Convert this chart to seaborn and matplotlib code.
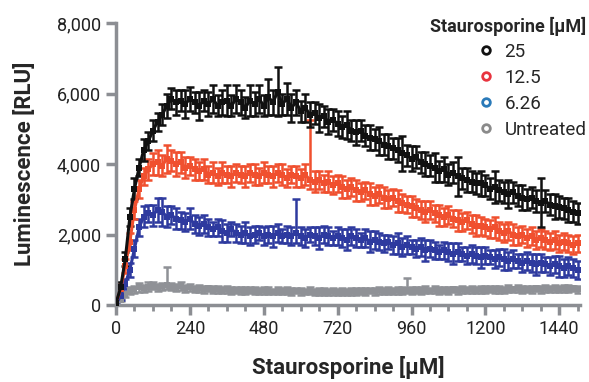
import numpy as np
import pandas as pd
import matplotlib
matplotlib.use("Agg")
import matplotlib.pyplot as plt
import seaborn as sns
from matplotlib.lines import Line2D
from matplotlib.ticker import MultipleLocator, FuncFormatter

# ===== Data =====
time_min = list(range(0, 1501, 15))

lum_25 = [
    50, 500, 1300, 2500, 3300, 3900, 4400, 4650, 4950, 5200,
    5400, 5650, 5850, 5750, 5800, 5700, 5850, 5750, 5650, 5800,
    5700, 5850, 5650, 5750, 5800, 5650, 5850, 5750, 5600, 5800,
    5700, 5850, 5650, 5900, 5750, 6050, 5700, 5850, 5600, 5750,
    5500, 5600, 5400, 5450, 5300, 5350, 5200, 5250, 5150, 5050,
    5100, 4950, 4900, 4950, 4800, 4750, 4700, 4650, 4550, 4500,
    4450, 4400, 4300, 4250, 4150, 4200, 4050, 4000, 3950, 3900,
    3800, 3850, 3700, 3750, 3650, 3600, 3550, 3500, 3450, 3450,
    3400, 3300, 3350, 3250, 3200, 3150, 3200, 3100, 3050, 3000,
    3050, 2950, 2900, 2950, 2850, 2800, 2780, 2750, 2700, 2650,
    2600,
]
err_25 = [
    50, 150, 200, 250, 300, 250, 300, 250, 300, 250,
    300, 350, 300, 350, 300, 400, 350, 300, 400, 300,
    350, 400, 300, 350, 450, 300, 400, 350, 300, 450,
    350, 400, 300, 500, 350, 700, 300, 450, 400, 350,
    300, 400, 350, 300, 400, 300, 350, 300, 350, 300,
    400, 300, 350, 300, 300, 350, 300, 400, 300, 350,
    300, 350, 500, 300, 350, 300, 300, 350, 300, 400,
    300, 350, 300, 300, 550, 300, 350, 300, 300, 350,
    300, 300, 450, 300, 300, 400, 300, 300, 350, 300,
    300, 300, 700, 300, 300, 350, 300, 300, 350, 300,
    300,
]

lum_12_5 = [
    50, 450, 1100, 1800, 2700, 3300, 3650, 3850, 4000, 4050,
    3950, 4150, 4100, 4000, 4050, 3900, 3950, 3850, 3800, 3850,
    3700, 3750, 3650, 3750, 3700, 3650, 3750, 3700, 3650, 3750,
    3700, 3650, 3750, 3700, 3650, 3750, 3700, 3600, 3700, 3650,
    3600, 3700, 3550, 3500, 3550, 3450, 3500, 3400, 3450, 3350,
    3300, 3350, 3250, 3200, 3250, 3150, 3100, 3150, 3050, 3000,
    3050, 2950, 2900, 2850, 2800, 2750, 2700, 2650, 2700, 2600,
    2550, 2500, 2550, 2450, 2400, 2350, 2400, 2300, 2250, 2250,
    2200, 2150, 2200, 2100, 2050, 2100, 2000, 1950, 2000, 1900,
    1950, 1850, 1900, 1850, 1800, 1850, 1750, 1800, 1750, 1700,
    1750,
]
err_12_5 = [
    50, 150, 200, 250, 250, 250, 250, 300, 300, 350,
    300, 400, 300, 350, 300, 300, 250, 300, 250, 300,
    250, 300, 250, 300, 250, 300, 250, 250, 300, 250,
    300, 250, 300, 250, 300, 250, 300, 250, 250, 300,
    250, 300, 250, 300, 250, 250, 300, 250, 250, 300,
    250, 250, 300, 250, 250, 300, 250, 250, 300, 250,
    250, 300, 250, 250, 300, 250, 250, 300, 250, 250,
    300, 250, 250, 250, 300, 250, 250, 250, 300, 250,
    250, 250, 300, 250, 250, 250, 300, 250, 250, 250,
    250, 250, 250, 250, 250, 250, 250, 250, 250, 250,
    250,
]

lum_6_26 = [
    40, 250, 600, 1000, 1600, 2200, 2500, 2600, 2550, 2700,
    2650, 2500, 2550, 2450, 2400, 2350, 2450, 2300, 2250, 2300,
    2200, 2150, 2200, 2100, 2050, 2150, 2050, 2000, 2050, 1950,
    2000, 2050, 1950, 2000, 1950, 2050, 1950, 2000, 1950, 2050,
    1950, 1900, 2000, 1950, 1900, 2000, 1950, 1900, 1950, 1900,
    1850, 1950, 1900, 1850, 1900, 1800, 1850, 1800, 1750, 1800,
    1700, 1750, 1650, 1700, 1650, 1600, 1650, 1550, 1600, 1550,
    1500, 1550, 1500, 1450, 1500, 1450, 1400, 1450, 1400, 1350,
    1400, 1350, 1300, 1350, 1300, 1250, 1300, 1250, 1200, 1250,
    1200, 1150, 1200, 1150, 1100, 1150, 1100, 1050, 1100, 1050,
    1000,
]
err_6_26 = [
    40, 100, 150, 200, 250, 250, 300, 250, 300, 350,
    400, 300, 250, 300, 250, 250, 300, 250, 250, 250,
    250, 200, 250, 300, 250, 200, 250, 250, 300, 250,
    250, 200, 250, 250, 300, 250, 200, 250, 250, 300,
    250, 250, 200, 250, 300, 250, 250, 200, 250, 250,
    300, 250, 250, 200, 250, 300, 250, 250, 250, 200,
    250, 300, 250, 250, 200, 250, 250, 300, 250, 250,
    200, 250, 250, 300, 250, 200, 250, 250, 250, 300,
    250, 200, 250, 250, 300, 250, 250, 200, 250, 250,
    250, 300, 250, 200, 250, 250, 300, 250, 250, 250,
    250,
]

lum_untreated = [
    30, 150, 300, 400, 450, 500, 480, 520, 550, 500,
    530, 580, 520, 500, 540, 480, 500, 460, 480, 440,
    470, 430, 450, 420, 440, 410, 430, 420, 400, 430,
    410, 390, 420, 400, 380, 410, 390, 400, 380, 410,
    390, 380, 400, 370, 390, 380, 360, 390, 370, 380,
    360, 390, 370, 400, 380, 410, 390, 420, 400, 410,
    390, 420, 400, 430, 410, 420, 400, 430, 410, 440,
    420, 430, 410, 440, 420, 450, 430, 440, 420, 450,
    430, 460, 440, 450, 430, 460, 440, 470, 450, 460,
    440, 470, 450, 480, 460, 470, 450, 480, 460, 470,
    450,
]
err_untreated = [
    20, 50, 80, 100, 100, 120, 100, 120, 100, 100,
    100, 120, 100, 100, 120, 100, 100, 80, 100, 100,
    80, 100, 100, 80, 100, 100, 80, 100, 100, 80,
    100, 80, 100, 100, 80, 100, 80, 100, 100, 80,
    100, 80, 100, 80, 100, 100, 80, 100, 80, 100,
    80, 100, 100, 80, 100, 80, 100, 100, 80, 100,
    80, 100, 100, 80, 100, 80, 100, 100, 80, 100,
    100, 80, 100, 80, 100, 100, 80, 100, 80, 100,
    100, 80, 100, 100, 80, 100, 80, 100, 100, 80,
    100, 80, 100, 100, 80, 100, 80, 100, 100, 80,
    100,
]

# a few error bars that only stick out upwards (time -> upper error)
spikes_12_5 = {630: 1700}
spikes_6_26 = {585: 950}
spikes_untreated = {165: 500, 945: 350}

conc_labels = ["25", "12.5", "6.26", "Untreated"]
line_colors = ["#111111", "#f0502f", "#2e3a9f", "#8f9196"]
legend_colors = ["#111111", "#e8343f", "#2a7ab9", "#8a8a8a"]

series = {
    "25": (lum_25, err_25, {}),
    "12.5": (lum_12_5, err_12_5, spikes_12_5),
    "6.26": (lum_6_26, err_6_26, spikes_6_26),
    "Untreated": (lum_untreated, err_untreated, spikes_untreated),
}

rows = []
for conc, (vals, errs, spikes) in series.items():
    assert len(vals) == len(time_min) and len(errs) == len(time_min)
    for t, v, e in zip(time_min, vals, errs):
        rows.append({"time": t, "lum": v, "err": e,
                     "err_up": spikes.get(t, e), "conc": conc})
df = pd.DataFrame(rows)

# ===== Style =====
sns.set_style("ticks")
plt.rcParams["font.family"] = ["Roboto", "DejaVu Sans"]
axis_gray = "#8c8e93"

fig = plt.figure(figsize=(5.89, 3.82), dpi=100)
ax = fig.add_axes([0.197, 0.2016, 0.788, 0.738])

# draw back to front: untreated first, 25 uM on top
for conc, color in list(zip(conc_labels, line_colors))[::-1]:
    sub = df[df["conc"] == conc]
    ax.errorbar(sub["time"], sub["lum"], yerr=[sub["err"], sub["err_up"]],
                fmt="none", ecolor=color, elinewidth=1.8,
                capsize=2.6, capthick=1.8, zorder=2)
    sns.lineplot(data=sub, x="time", y="lum", color=color, marker="s",
                 markersize=4.5, markeredgewidth=0, linewidth=2.2,
                 ax=ax, legend=False, zorder=3)

ax.set_xlim(0, 1508)
ax.set_ylim(0, 8000)
ax.xaxis.set_major_locator(MultipleLocator(240))
ax.xaxis.set_minor_locator(MultipleLocator(60))
ax.yaxis.set_major_locator(MultipleLocator(2000))
ax.yaxis.set_major_formatter(FuncFormatter(lambda v, p: f"{int(v):,}"))

sns.despine(ax=ax)
for side in ["left", "bottom"]:
    ax.spines[side].set_color(axis_gray)
    ax.spines[side].set_linewidth(2.5)
ax.tick_params(axis="both", which="major", length=7, width=2.5,
               color=axis_gray, labelsize=13, labelcolor="#222222", pad=4)
ax.tick_params(axis="x", which="minor", length=4.5, width=2, color=axis_gray)

ax.set_xlabel("Staurosporine [µM]", fontsize=16, fontweight="bold", labelpad=13)
ax.set_ylabel("Luminescence [RLU]", fontsize=16, fontweight="bold", labelpad=15)

# ===== Legend =====
handles = [Line2D([], [], marker="o", linestyle="none", markerfacecolor="white",
                  markeredgecolor=c, markeredgewidth=2, markersize=5.5)
           for c in legend_colors]
leg = ax.legend(handles, conc_labels, title="Staurosporine [µM]",
                title_fontproperties={"weight": "bold", "size": 13},
                fontsize=13.5, frameon=False, loc="upper right",
                bbox_to_anchor=(1.018, 0.99), bbox_transform=fig.transFigure,
                borderpad=0.2, handlelength=0.8, handletextpad=0.6,
                labelspacing=0.42, alignment="right")
leg._legend_box.sep = 5

fig.savefig("out.png", dpi=100)
